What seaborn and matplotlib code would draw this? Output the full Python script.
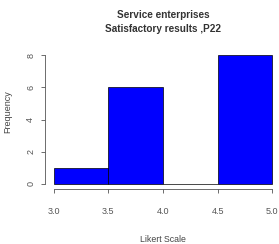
import seaborn as sns
import matplotlib.pyplot as plt

# Likert histogram (bins of width 0.5)
bin_edges = [3.0, 3.5, 4.0, 4.5, 5.0]
bin_mids = [3.25, 3.75, 4.25, 4.75]
counts = [1, 6, 0, 8]
x_ticks = [3.0, 3.5, 4.0, 4.5, 5.0]
y_ticks = [0, 2, 4, 6, 8]

sns.set_style("ticks")
plt.rcParams["font.family"] = ["Liberation Sans", "DejaVu Sans"]

fig = plt.figure(figsize=(2.79, 2.44), dpi=100)
# plot region: x 45..281 px, y 50..189 px (R-style 4% padding)
ax = fig.add_axes([45 / 279, 1 - 189 / 244, 236 / 279, 139 / 244])

sns.histplot(x=bin_mids, weights=counts, bins=bin_edges, ax=ax,
             color="#0000FF", alpha=1, edgecolor="black", linewidth=0.5)

ax.set_xlim(2.92, 5.08)
ax.set_ylim(-0.32, 8.32)
ax.set_xticks(x_ticks)
ax.set_xticklabels([f"{t:.1f}" for t in x_ticks])
ax.set_yticks(y_ticks)
ax.set_yticklabels([str(t) for t in y_ticks], rotation=90, va="center")
ax.spines["left"].set_bounds(0, 8)
ax.spines["bottom"].set_bounds(3.0, 5.0)
ax.spines["top"].set_visible(False)
ax.spines["right"].set_visible(False)
for s in ["left", "bottom"]:
    ax.spines[s].set_color("#555555")
    ax.spines[s].set_linewidth(0.6)
ax.tick_params(axis="both", length=3, width=0.6, color="#555555",
               labelsize=6.5, labelcolor="#555555")
ax.tick_params(axis="x", pad=10)
ax.tick_params(axis="y", pad=4)

ax.set_xlabel("Likert Scale", fontsize=6.3, color="#444444")
ax.set_ylabel("Frequency", fontsize=6.5, color="#444444")
ax.xaxis.set_label_coords((163 - 45) / 236, (189 - 235) / 139)
ax.yaxis.set_label_coords((12 - 45) / 236, (189 - 112) / 139)

fig.text(163 / 279, 1 - 15 / 244, "Service enterprises", ha="center", va="center",
         fontsize=7.2, fontweight="bold", color="#333333")
fig.text(163 / 279, 1 - 29 / 244, "Satisfactory results ,P22", ha="center", va="center",
         fontsize=7.2, fontweight="bold", color="#333333")

fig.savefig("out.png", dpi=100)
